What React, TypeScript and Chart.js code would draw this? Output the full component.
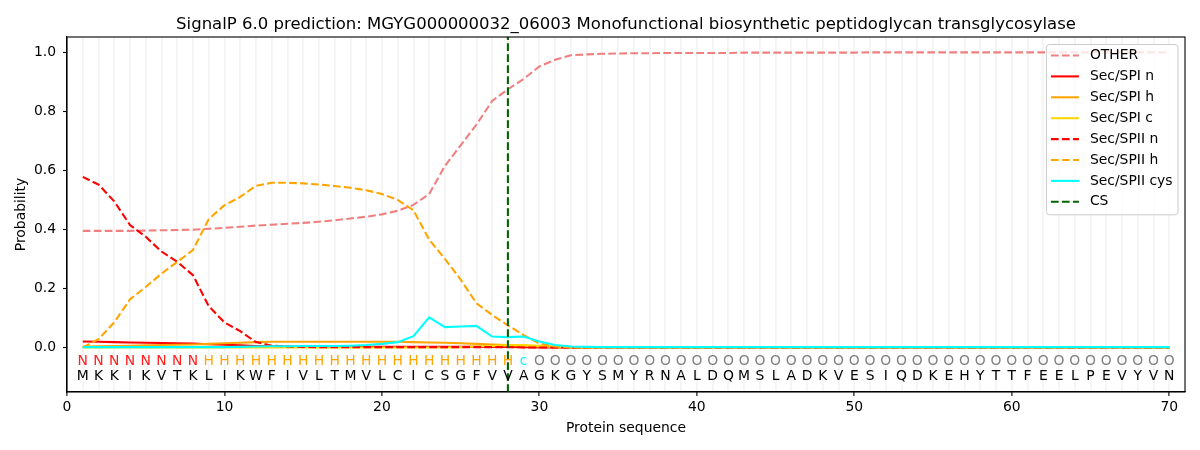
import React, { useEffect, useRef } from 'react';
import { Chart, registerables } from 'chart.js';

Chart.register(...registerables);

const FONT = '"DejaVu Sans", "Liberation Sans", sans-serif';
const TITLE =
  'SignalP 6.0 prediction: MGYG000000032_06003 Monofunctional biosynthetic peptidoglycan transglycosylase';
const X_LABEL = 'Protein sequence';
const Y_LABEL = 'Probability';

const RESIDUES = [...'MKKIKVTKLIKWFIVLTMVLCICSGFVVAGKGYSMYRNALDQMSLADKVESIQDKEHYTTFEELPEVYVN'];
const REGIONS = [...'NNNNNNNNHHHHHHHHHHHHHHHHHHHHcOOOOOOOOOOOOOOOOOOOOOOOOOOOOOOOOOOOOOOOOO'];
const POSITIONS = RESIDUES.map((_, i) => i + 1);

const CS_POSITION = 28;
const X_TICKS = [0, 10, 20, 30, 40, 50, 60, 70];
const Y_TICKS = [0, 0.2, 0.4, 0.6, 0.8, 1.0];
const X_MIN = 0;
const X_MAX = 71;
const Y_MIN = -0.151;
const Y_MAX = 1.052;
const REGION_ROW_Y = -0.046;
const RESIDUE_ROW_Y = -0.097;

const OTHER = [
  0.395, 0.395, 0.395, 0.395, 0.396, 0.397, 0.398, 0.399, 0.402, 0.405,
  0.409, 0.413, 0.416, 0.419, 0.422, 0.426, 0.431, 0.437, 0.443, 0.451,
  0.463, 0.483, 0.520, 0.615, 0.685, 0.755, 0.835, 0.875, 0.910, 0.952,
  0.975, 0.990, 0.993, 0.995, 0.996, 0.997, 0.997, 0.998, 0.998, 0.998,
  0.998, 0.998, 0.999, 0.999, 0.999, 0.999, 0.999, 0.999, 0.999, 0.999,
  1.0, 1.0, 1.0, 1.0, 1.0, 1.0, 1.0, 1.0, 1.0, 1.0,
  1.0, 1.0, 1.0, 1.0, 1.0, 1.0, 1.0, 1.0, 1.0, 1.0,
];
const SPI_N = [
  0.020, 0.019, 0.018, 0.017, 0.016, 0.015, 0.014, 0.013, 0.011, 0.009,
  0.007, 0.005, 0.004, 0.003, 0.003, 0.002, 0.002, 0.002, 0.002, 0.002,
  0.002, 0.002, 0.002, 0.002, 0.002, 0.002, 0.002, 0.002, 0.001, 0,
  0, 0, 0, 0, 0, 0, 0, 0, 0, 0,
  0, 0, 0, 0, 0, 0, 0, 0, 0, 0,
  0, 0, 0, 0, 0, 0, 0, 0, 0, 0,
  0, 0, 0, 0, 0, 0, 0, 0, 0, 0,
];
const SPI_H = [
  0.003, 0.004, 0.005, 0.006, 0.007, 0.008, 0.009, 0.010, 0.012, 0.014,
  0.016, 0.018, 0.019, 0.019, 0.019, 0.019, 0.019, 0.019, 0.019, 0.019,
  0.019, 0.018, 0.017, 0.016, 0.014, 0.012, 0.010, 0.008, 0.006, 0.003,
  0.001, 0, 0, 0, 0, 0, 0, 0, 0, 0,
  0, 0, 0, 0, 0, 0, 0, 0, 0, 0,
  0, 0, 0, 0, 0, 0, 0, 0, 0, 0,
  0, 0, 0, 0, 0, 0, 0, 0, 0, 0,
];
const SPI_C = [
  0, 0, 0, 0, 0, 0, 0, 0, 0, 0,
  0, 0, 0, 0, 0, 0, 0, 0, 0, 0,
  0, 0, 0, 0, 0.001, 0.003, 0.005, 0.007, 0.008, 0.006,
  0.003, 0.001, 0, 0, 0, 0, 0, 0, 0, 0,
  0, 0, 0, 0, 0, 0, 0, 0, 0, 0,
  0, 0, 0, 0, 0, 0, 0, 0, 0, 0,
  0, 0, 0, 0, 0, 0, 0, 0, 0, 0,
];
const SPII_N = [
  0.578, 0.552, 0.495, 0.415, 0.375, 0.325, 0.290, 0.245, 0.140, 0.085,
  0.055, 0.018, 0.006, 0.003, 0.002, 0.001, 0.001, 0.001, 0.001, 0.001,
  0.001, 0.001, 0.001, 0.001, 0.001, 0.001, 0.001, 0.001, 0, 0,
  0, 0, 0, 0, 0, 0, 0, 0, 0, 0,
  0, 0, 0, 0, 0, 0, 0, 0, 0, 0,
  0, 0, 0, 0, 0, 0, 0, 0, 0, 0,
  0, 0, 0, 0, 0, 0, 0, 0, 0, 0,
];
const SPII_H = [
  0.000, 0.028, 0.085, 0.163, 0.205, 0.250, 0.290, 0.330, 0.435, 0.482,
  0.510, 0.548, 0.558, 0.558, 0.556, 0.552, 0.547, 0.541, 0.533, 0.520,
  0.500, 0.465, 0.365, 0.300, 0.230, 0.150, 0.110, 0.075, 0.042, 0.013,
  0.003, 0.001, 0, 0, 0, 0, 0, 0, 0, 0,
  0, 0, 0, 0, 0, 0, 0, 0, 0, 0,
  0, 0, 0, 0, 0, 0, 0, 0, 0, 0,
  0, 0, 0, 0, 0, 0, 0, 0, 0, 0,
];
const SPII_CYS = [
  0.001, 0.001, 0.001, 0.001, 0.001, 0.001, 0.001, 0.001, 0.001, 0.001,
  0.002, 0.003, 0.004, 0.004, 0.005, 0.005, 0.005, 0.006, 0.008, 0.012,
  0.018, 0.038, 0.102, 0.069, 0.071, 0.073, 0.037, 0.035, 0.037, 0.020,
  0.008, 0.003, 0.002, 0.001, 0.001, 0.001, 0.001, 0.001, 0.001, 0.001,
  0.001, 0.001, 0.001, 0.001, 0.001, 0.001, 0.001, 0.001, 0.001, 0.001,
  0.001, 0.001, 0.001, 0.001, 0.001, 0.001, 0.001, 0.001, 0.001, 0.001,
  0.001, 0.001, 0.001, 0.001, 0.001, 0.001, 0.001, 0.001, 0.001, 0.001,
];

const LINE_WIDTH = 2.08;
const DASH = [7.7, 3.3];
const GRID_COLOR = '#f4f4f4';
const CS_COLOR = '#006400';

const SERIES = [
  { label: 'OTHER', values: OTHER, color: '#f08080', dashed: true },
  { label: 'Sec/SPI n', values: SPI_N, color: '#ff0000', dashed: false },
  { label: 'Sec/SPI h', values: SPI_H, color: '#ffa500', dashed: false },
  { label: 'Sec/SPI c', values: SPI_C, color: '#ffd700', dashed: false },
  { label: 'Sec/SPII n', values: SPII_N, color: '#ff0000', dashed: true },
  { label: 'Sec/SPII h', values: SPII_H, color: '#ffa500', dashed: true },
  { label: 'Sec/SPII cys', values: SPII_CYS, color: '#00ffff', dashed: false },
];

const REGION_COLORS: Record<string, string> = {
  N: '#ff2020',
  H: '#ffa500',
  c: '#00ffff',
  O: '#808080',
};

const overlayPlugin = {
  id: 'overlay',
  afterDatasetsDraw(chart: any) {
    const { ctx, scales } = chart;
    const x = scales.x;
    const y = scales.y;
    ctx.save();
    ctx.font = `13.9px ${FONT}`;
    ctx.textAlign = 'center';
    ctx.textBaseline = 'middle';
    const yr = y.getPixelForValue(REGION_ROW_Y);
    const ya = y.getPixelForValue(RESIDUE_ROW_Y);
    POSITIONS.forEach((p, i) => {
      const px = x.getPixelForValue(p);
      ctx.fillStyle = REGION_COLORS[REGIONS[i]] || '#808080';
      ctx.fillText(REGIONS[i], px, yr);
      ctx.fillStyle = '#000';
      ctx.fillText(RESIDUES[i], px, ya);
    });
    ctx.restore();
  },
  afterDraw(chart: any) {
    const { ctx, chartArea } = chart;
    ctx.save();
    // frame
    ctx.strokeStyle = '#000';
    ctx.lineWidth = 1.1;
    ctx.setLineDash([]);
    ctx.strokeRect(chartArea.left, chartArea.top, chartArea.right - chartArea.left, chartArea.bottom - chartArea.top);

    // title
    ctx.fillStyle = '#000';
    ctx.font = `16.5px ${FONT}`;
    ctx.textAlign = 'center';
    ctx.textBaseline = 'alphabetic';
    ctx.fillText(TITLE, (chartArea.left + chartArea.right) / 2, 28.5);

    // legend
    const fs = 13.9;
    ctx.font = `${fs}px ${FONT}`;
    const items = chart.data.datasets;
    let textW = 0;
    items.forEach((d: any) => {
      textW = Math.max(textW, ctx.measureText(d.label).width);
    });
    const padL = 4.5;
    const handle = 28;
    const gap = 11;
    const padR = 5.5;
    const rowH = 20.9;
    const boxW = padL + handle + gap + textW + padR;
    const boxRight = chartArea.right - 7;
    const boxTop = chartArea.top + 7.5;
    const boxLeft = boxRight - boxW;
    const boxH = 11 + rowH * (items.length - 1) + 13;
    ctx.beginPath();
    (ctx as any).roundRect(boxLeft, boxTop, boxW, boxH, 3);
    ctx.fillStyle = 'rgba(255,255,255,0.8)';
    ctx.fill();
    ctx.strokeStyle = '#cccccc';
    ctx.lineWidth = 1;
    ctx.stroke();
    items.forEach((d: any, i: number) => {
      const cy = boxTop + 11 + i * rowH;
      ctx.beginPath();
      ctx.setLineDash(d.borderDash || []);
      ctx.strokeStyle = d.borderColor;
      ctx.lineWidth = LINE_WIDTH;
      ctx.moveTo(boxLeft + padL, cy);
      ctx.lineTo(boxLeft + padL + handle, cy);
      ctx.stroke();
      ctx.setLineDash([]);
      ctx.fillStyle = '#000';
      ctx.textAlign = 'left';
      ctx.textBaseline = 'middle';
      ctx.fillText(d.label, boxLeft + padL + handle + gap, cy);
    });
    ctx.restore();
  },
};

export default function App() {
  const ref = useRef<HTMLCanvasElement>(null);

  useEffect(() => {
    const canvas = ref.current;
    if (!canvas) return;
    Chart.defaults.font.family = FONT;

    const datasets: any[] = SERIES.map((s, i) => ({
      label: s.label,
      data: POSITIONS.map((p, j) => ({ x: p, y: s.values[j] })),
      borderColor: s.color,
      backgroundColor: s.color,
      borderWidth: LINE_WIDTH,
      borderDash: s.dashed ? DASH : [],
      pointRadius: 0,
      pointHoverRadius: 0,
      tension: 0,
      fill: false,
      order: SERIES.length - i,
    }));
    datasets.push({
      label: 'CS',
      data: [
        { x: CS_POSITION, y: Y_MIN },
        { x: CS_POSITION, y: Y_MAX },
      ],
      borderColor: CS_COLOR,
      backgroundColor: CS_COLOR,
      borderWidth: LINE_WIDTH,
      borderDash: DASH,
      pointRadius: 0,
      pointHoverRadius: 0,
      tension: 0,
      fill: false,
      order: 0,
    });

    const gridTicks = [0, ...POSITIONS];

    const chart = new Chart(canvas, {
      type: 'line',
      data: { datasets },
      options: {
        animation: false,
        responsive: false,
        devicePixelRatio: 1,
        layout: { padding: { top: 37, right: 15, left: 0, bottom: 0 } },
        plugins: {
          legend: { display: false },
          tooltip: { enabled: false },
          title: { display: false },
        },
        scales: {
          x: {
            type: 'linear',
            min: X_MIN,
            max: X_MAX,
            afterBuildTicks: (s: any) => {
              s.ticks = gridTicks.map((v) => ({ value: v }));
            },
            afterFit: (s: any) => {
              s.height = 58;
            },
            ticks: {
              autoSkip: false,
              maxRotation: 0,
              padding: 3,
              color: '#000',
              font: { size: 13.9 },
              callback: (v: any) => (X_TICKS.includes(Number(v)) ? String(v) : ''),
            },
            grid: {
              color: (c: any) =>
                c.tick && c.tick.value >= 1 && c.tick.value <= POSITIONS.length ? GRID_COLOR : 'rgba(0,0,0,0)',
              lineWidth: 1.8,
              tickLength: 4,
              tickWidth: 1.1,
              tickColor: (c: any) =>
                c.tick && X_TICKS.includes(c.tick.value) ? '#000' : 'rgba(0,0,0,0)',
            },
            border: { color: '#000', width: 1.1 },
            title: {
              display: true,
              text: X_LABEL,
              color: '#000',
              font: { size: 13.9 },
              padding: { top: 0, bottom: 13 },
            },
          },
          y: {
            type: 'linear',
            min: Y_MIN,
            max: Y_MAX,
            afterBuildTicks: (s: any) => {
              s.ticks = Y_TICKS.map((v) => ({ value: v }));
            },
            afterFit: (s: any) => {
              s.width = 67;
            },
            ticks: {
              padding: 7,
              color: '#000',
              font: { size: 13.9 },
              callback: (v: any) => Number(v).toFixed(1),
            },
            grid: {
              drawOnChartArea: false,
              tickLength: 4,
              tickWidth: 1.1,
              tickColor: '#000',
            },
            border: { color: '#000', width: 1.1 },
            title: {
              display: true,
              text: Y_LABEL,
              color: '#000',
              font: { size: 13.9 },
              padding: { top: 13, bottom: 0 },
            },
          },
        },
      } as any,
      plugins: [overlayPlugin],
    });

    return () => chart.destroy();
  }, []);

  return (
    <div style={{ position: 'fixed', left: 0, top: 0, width: 1200, height: 450, background: '#fff' }}>
      <canvas ref={ref} width={1200} height={450} style={{ width: 1200, height: 450, display: 'block' }} />
    </div>
  );
}
